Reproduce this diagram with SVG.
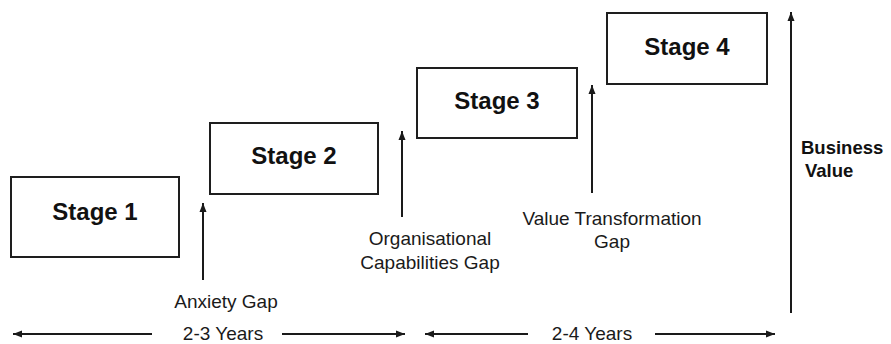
<svg xmlns="http://www.w3.org/2000/svg" width="891" height="344" viewBox="0 0 891 344">
<style>
.box{fill:#fff;stroke:#1e1e1e;stroke-width:2}
.st{font-family:"Liberation Sans",Arial,sans-serif;font-weight:bold;font-size:24px;fill:#111;text-anchor:middle}
.lb{font-family:"Liberation Sans",Arial,sans-serif;font-size:19px;fill:#1a1a1a;text-anchor:middle}
.bv{font-family:"Liberation Sans",Arial,sans-serif;font-weight:bold;font-size:18.5px;fill:#111}
.ar{stroke:#1a1a1a;stroke-width:2;fill:none;marker-end:url(#ah)}
</style>
<defs>
<marker id="ah" markerUnits="userSpaceOnUse" markerWidth="10" markerHeight="8" viewBox="0 -4 10 8" refX="9" refY="0" orient="auto">
<path d="M0,-3.5 L9,0 L0,3.5 z" fill="#1a1a1a"/>
</marker>
</defs>
<rect width="891" height="344" fill="#fff"/>
<g id="stage1"><rect class="box" x="11" y="177" width="168" height="80"/><text class="st" x="95" y="220">Stage 1</text></g>
<g id="stage2"><rect class="box" x="210" y="123" width="168" height="71"/><text class="st" x="294" y="164">Stage 2</text></g>
<g id="stage3"><rect class="box" x="417" y="68" width="160" height="70"/><text class="st" x="497" y="109">Stage 3</text></g>
<g id="stage4"><rect class="box" x="607" y="13" width="160" height="71"/><text class="st" x="687" y="55">Stage 4</text></g>
<g id="connectors">
<line class="ar" x1="203" y1="280" x2="203" y2="203"/>
<line class="ar" x1="402" y1="217" x2="402" y2="131"/>
<line class="ar" x1="592" y1="193" x2="592" y2="85"/>
<line class="ar" x1="791" y1="313" x2="791" y2="12"/>
<line class="ar" x1="152" y1="334" x2="13" y2="334"/>
<line class="ar" x1="282" y1="334" x2="405" y2="334"/>
<line class="ar" x1="528" y1="334" x2="425" y2="334"/>
<line class="ar" x1="655" y1="334" x2="775" y2="334"/>
</g>
<g id="labels">
<text class="lb" x="226" y="308">Anxiety Gap</text>
<text class="lb" x="430" y="245">Organisational</text>
<text class="lb" x="430" y="269">Capabilities Gap</text>
<text class="lb" x="612" y="225">Value Transformation</text>
<text class="lb" x="612" y="248">Gap</text>
<text class="lb" x="223" y="340">2-3 Years</text>
<text class="lb" x="592" y="340">2-4 Years</text>
<text class="bv" x="801" y="154">Business</text>
<text class="bv" x="805" y="177">Value</text>
</g>
</svg>
